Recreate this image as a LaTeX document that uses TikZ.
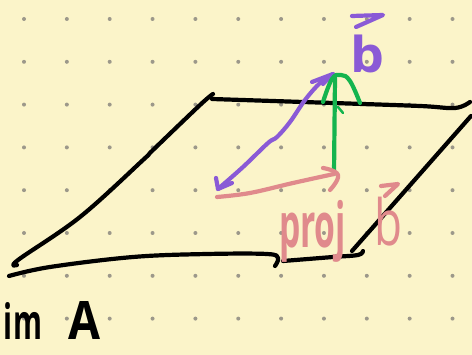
\documentclass[tikz,border=0pt]{standalone}
\usepackage{fontspec}
\usepackage{graphicx}
\setmainfont{Open Sans}
\definecolor{paper}{HTML}{FBF4C9}
\definecolor{dotc}{HTML}{9C988A}
\definecolor{penpink}{HTML}{E08A8C}
\definecolor{penpurple}{HTML}{8A5AD6}
\definecolor{pengreen}{HTML}{14B44E}
\tikzset{
  pen/.style={line width=4.2pt, line cap=round, line join=round},
  ink/.style={pen, black},
  gridpt/.style={fill=dotc},
  lbl/.style={inner sep=0pt, outer sep=0pt, anchor=north west, font=\bfseries}
}
\begin{document}
\begin{tikzpicture}[x=1pt,y=-1pt]
\fill[paper] (0,0) rectangle (472,355);
\useasboundingbox (0,0) rectangle (472,355);
% dot grid
\foreach \i in {0,...,10} {
  \foreach \j in {0,...,7} {
    \fill[gridpt] ({24+42.85*\i},{19+42.8*\j}) circle (2pt);
  }
}
% plane (im A)
\draw[ink] plot[smooth, tension=0.6] coordinates {(212,99) (333,103) (420,106) (455,108) (470,102)};
\draw[ink] plot[smooth, tension=0.6] coordinates {(213,94) (200,105) (153,150) (143,160) (80,217) (18,260) (17,265)};
\draw[ink] plot[smooth, tension=0.6] coordinates {(9,276) (50,267) (133,257) (207,254) (267,254) (278,258) (275,266)};
\draw[ink] plot[smooth, tension=0.6] coordinates {(283,261) (333,257) (358,255) (363,251)};
\draw[ink] (471,116) -- (352,251);
% key points
\coordinate (O) at (218,189);
\coordinate (B) at (333,74);
\coordinate (P) at (334,174);
% purple vector b
\draw[pen, penpurple] plot[smooth, tension=0.6] coordinates {(O) (243,167) (268,143) (277,137) (290,122) (305,100) (320,83) (B)};
\draw[pen, penpurple] (216,178) -- (O) -- (232,183);
\draw[pen, penpurple] (312,82) -- (B) -- (323,84);
% green orthogonal part
\draw[pen, pengreen] (P) -- (335,78);
\draw[pen, pengreen] plot[smooth, tension=0.7] coordinates {(323,102) (332,79) (341,75) (350,81) (360,103)};
\draw[pen, pengreen, line width=2.5pt] (338,107) -- (343,113);
% pink projection
\draw[pen, penpink] plot[smooth, tension=0.6] coordinates {(217,197) (250,193) (293,183) (P)};
\draw[pen, penpink] plot[smooth, tension=0.8] coordinates {(323,168) (338,175) (330,190)};
% labels
\node[lbl, text=penpurple] (bl) at (350,35) {\resizebox*{34pt}{38pt}{b}};
\draw[pen, penpurple] (352,16) -- (383,15) -- (356,27);
\node[lbl, text=penpink] (pj) at (279,200) {\resizebox*{67pt}{62pt}{proj}};
\node[lbl, text=penpink] (pb) at (374,197) {\resizebox*{28pt}{49pt}{\mdseries b}};
\draw[pen, penpink] (381,186) -- (398,184) -- (385,196);
\node[lbl, text=black] (im) at (4,302) {\resizebox*{38pt}{37pt}{im}\hspace{26pt}\resizebox*{32pt}{38pt}{A}};
\end{tikzpicture}
\end{document}
